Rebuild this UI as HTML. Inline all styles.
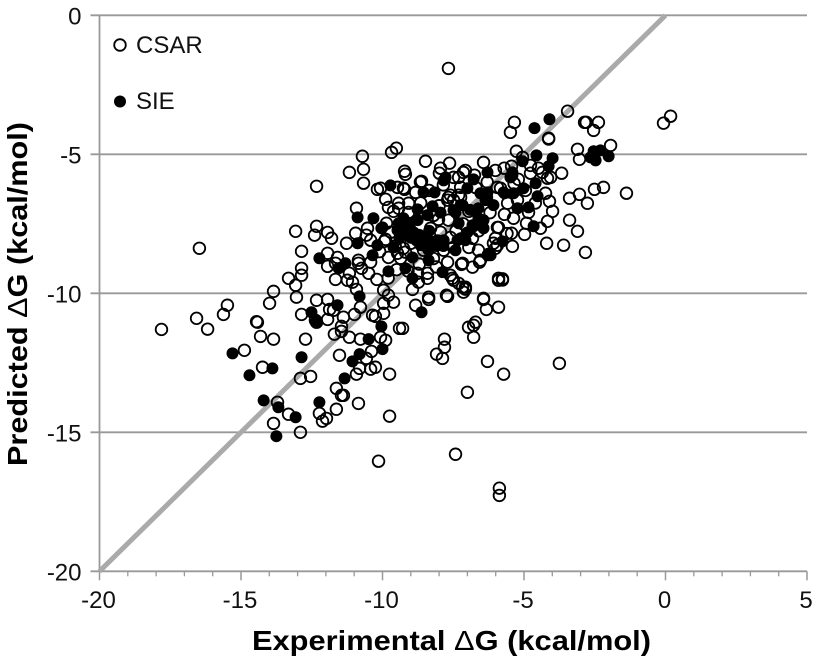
<!DOCTYPE html>
<html lang="en">
<head>
<meta charset="utf-8">
<title>Predicted vs Experimental Binding Free Energy</title>
<style>
html,body{margin:0;padding:0;background:#fff;width:815px;height:661px;overflow:hidden}
svg{display:block}
text{font-family:"Liberation Sans",sans-serif;fill:#111}
.tick{font-size:24px}
.title{font-size:28px;font-weight:bold;fill:#000}
.delta{font-weight:normal}
</style>
</head>
<body>
<svg id="chart" width="815" height="661" viewBox="0 0 815 661" xmlns="http://www.w3.org/2000/svg">
  <g id="grid"></g>
  <g id="axes"></g>
  <g id="identity"></g>
  <g id="csar"></g>
  <g id="sie"></g>
  <g>
    <circle cx="120" cy="45" r="5.8" fill="none" stroke="#000" stroke-width="1.8"/>
    <text x="136" y="53" style="font-size:24px">CSAR</text>
    <circle cx="120" cy="101.5" r="6" fill="#000"/>
    <text x="136" y="109" style="font-size:24px">SIE</text>
  </g>
  <text class="title" x="252" y="650" textLength="399" lengthAdjust="spacingAndGlyphs">Experimental <tspan class="delta">Δ</tspan>G (kcal/mol)</text>
  <text class="title" transform="translate(27,466) rotate(-90)" x="0" y="0" textLength="344" lengthAdjust="spacingAndGlyphs">Predicted <tspan class="delta">Δ</tspan>G (kcal/mol)</text>
</svg>
<script>
const xTicks = [-20, -15, -10, -5, 0, 5];
const xTickLabels = ["-20", "-15", "-10", "-5", "0", "5"];
const yTicks = [0, -5, -10, -15, -20];
const yTickLabels = ["0", "-5", "-10", "-15", "-20"];
const xMinorTicks = [-19,-18,-17,-16,-14,-13,-12,-11,-9,-8,-7,-6,-4,-3,-2,-1,1,2,3,4];
const identityLine = [-20, 0];

const csarPoints = [
[-7.67,-1.91],[-0.07,-3.88],[0.18,-3.63],[-3.46,-3.45],[-5.34,-3.85],[-5.48,-4.21],[-4.13,-4.42],[-4.13,-4.45],
[-2.86,-3.85],[-2.80,-3.85],[-2.37,-3.85],[-2.54,-4.14],[-3.11,-4.82],[-3.04,-5.18],[-1.94,-4.68],[-5.27,-4.89],
[-5.05,-5.11],[-6.01,-5.58],[-5.44,-5.43],[-3.67,-5.68],[-4.77,-5.68],[-4.17,-5.86],[-4.35,-5.65],[-5.83,-6.22],
[-3.39,-6.58],[-3.04,-6.44],[-2.76,-6.76],[-2.51,-6.26],[-2.19,-6.19],[-1.38,-6.40],[-4.24,-6.40],[-4.10,-6.69],
[-3.99,-7.05],[-4.17,-7.41],[-3.39,-7.37],[-3.11,-7.77],[-4.42,-7.66],[-4.98,-7.88],[-4.20,-8.20],[-3.60,-8.27],
[-2.83,-8.53],[-5.41,-8.31],[-5.44,-7.84],[-5.90,-7.63],[-4.91,-7.48],[-4.84,-7.09],[-5.69,-7.16],[-5.37,-7.30],
[-5.58,-6.76],[-5.23,-6.65],[-6.01,-8.38],[-4.06,-5.83],[-4.77,-5.40],[-4.49,-5.50],
[-3.75,-12.52],[-10.14,-16.04],[-7.42,-15.79],[-5.87,-17.01],[-5.87,-17.27],[-16.47,-8.38],[-17.81,-11.30],[-16.57,-10.90],
[-5.76,-9.48],[-5.76,-9.52],[-6.43,-10.22],[-6.33,-10.58],[-5.90,-10.50],[-7.70,-10.11],[-7.17,-9.78],[-7.07,-9.85],
[-7.53,-9.46],[-8.37,-10.22],[-8.83,-10.43],[-9.29,-11.26],[-6.96,-11.22],[-6.78,-11.15],[-6.71,-11.04],[-6.78,-11.58],
[-7.81,-11.65],[-7.81,-11.94],[-8.09,-12.19],[-7.88,-12.34],[-6.29,-12.45],[-5.72,-12.91],[-7.00,-13.56],
[-13.07,-7.77],[-12.33,-7.59],[-12.40,-7.91],[-11.94,-7.81],[-11.80,-8.02],[-11.27,-8.20],[-12.86,-8.49],[-11.94,-8.56],
[-12.86,-9.10],[-12.86,-9.35],[-13.32,-9.46],[-13.07,-9.71],[-13.85,-9.93],[-13.04,-10.14],[-13.99,-10.36],[-15.48,-10.43],
[-15.62,-10.76],[-12.33,-10.25],[-11.94,-10.22],[-12.86,-10.76],[-11.87,-10.58],[-11.73,-10.61],[-11.94,-10.94],[-12.37,-10.97],
[-12.33,-11.04],[-11.38,-10.86],[-11.45,-11.19],[-11.45,-11.37],[-11.70,-11.47],[-11.17,-11.58],[-10.99,-10.76],[-10.78,-10.50],
[-10.92,-9.86],[-14.45,-11.02],[-14.42,-11.04],[-16.18,-11.29],[-14.31,-11.55],[-13.85,-11.65],[-12.72,-11.65],[-14.88,-12.05],
[-14.24,-12.66],[-12.90,-13.06],[-12.54,-12.99],[-11.52,-12.23],[-10.78,-11.65],[-10.39,-12.09],[-10.57,-12.34],[-10.81,-12.70],
[-10.92,-12.91],[-10.42,-12.73],[-10.25,-12.66],[-9.75,-12.91],[-11.63,-13.42],[-11.45,-13.67],[-11.38,-13.67],[-10.85,-13.96],
[-11.63,-14.17],[-12.23,-14.32],[-11.98,-14.50],[-12.12,-14.60],[-13.71,-13.92],[-13.32,-14.35],[-13.85,-14.68],[-12.90,-15.00],
[-9.75,-14.42],[-9.96,-9.89],[-9.96,-10.36],[-9.79,-10.07],[-9.61,-10.32],[-10.35,-10.79],[-10.25,-10.83],[-9.96,-10.72],
[-9.40,-11.26],[-10.07,-11.58],[-9.89,-11.69],[-11.66,-8.92],[-11.94,-9.03],[-10.85,-8.92],[-10.74,-9.10],[-10.49,-9.28],
[-11.66,-9.50],[-11.24,-9.53],[-11.06,-9.60],[-11.17,-9.28],[-10.42,-8.88],[-9.79,-8.71],[-10.95,-7.84],[-10.53,-7.66],
[-10.42,-8.09],[-9.93,-8.13],[-9.47,-8.56],
[-10.71,-5.07],[-11.17,-5.65],[-10.67,-5.54],[-10.67,-6.04],[-12.33,-6.15],[-9.68,-4.93],[-9.51,-4.78],[-10.92,-6.94],
[-10.18,-6.26],[-10.07,-6.22],[-9.89,-6.62],[-9.79,-6.91],[-10.57,-7.91],[-9.89,-8.06],[-9.86,-7.48],[-11.59,-8.71],[-10.85,-8.81],
[-8.48,-5.25],[-9.22,-5.61],[-9.19,-5.72],[-8.62,-5.97],[-9.47,-6.19],[-9.22,-6.26],[-8.83,-6.37],[-9.43,-6.76],[-9.08,-6.76],
[-9.43,-6.94],[-9.61,-7.05],[-9.08,-7.09],[-7.63,-5.32],[-7.95,-5.50],[-7.99,-5.68],[-6.43,-5.29],[-7.07,-5.58],[-7.14,-5.65],
[-7.49,-5.83],[-7.31,-5.83],[-7.60,-6.47],[-7.49,-6.65],[-7.70,-6.65],[-7.31,-6.47],[-7.24,-6.19],[-5.94,-6.19],
[-9.36,-8.74],[-9.26,-8.38],[-9.19,-8.52],[-8.30,-7.66],[-8.02,-7.34],[-7.67,-7.37],[-7.60,-7.99],[-7.84,-8.45],[-7.70,-8.88],
[-7.21,-8.96],[-6.82,-9.06],[-6.57,-8.88],[-6.61,-8.45],[-6.82,-8.02],[-6.01,-8.02],[-5.94,-7.63],[-6.08,-8.20],
[-8.76,-9.28],[-8.41,-9.28],[-8.73,-9.60],[-8.41,-9.46],[-8.94,-9.86],[-7.60,-9.35],[-7.49,-9.53],[-7.31,-9.64],[-7.14,-9.96],
[-7.07,-9.78],[-8.37,-10.14],[-7.74,-10.07],[-6.43,-10.18],[-5.90,-9.46],[-5.90,-9.53],[-7.17,-8.92],[-6.54,-8.81],
[-8.90,-7.85],[-8.55,-8.45],[-9.00,-8.20],[-8.20,-8.75],[-8.00,-6.85],[-7.40,-7.75],[-6.95,-7.05],[-6.70,-6.20],[-6.20,-7.10],
[-5.60,-7.85],[-6.30,-6.00],[-6.75,-5.75],[-8.35,-6.30],[-7.85,-6.10],[-9.70,-7.80],[-9.55,-8.30],[-8.70,-8.95],[-8.10,-9.05],
[-7.95,-7.80],[-7.15,-7.50],[-6.60,-7.75],[-5.20,-5.90],[-5.70,-5.50],[-8.65,-6.75],[-9.10,-9.20],[-9.50,-9.15],[-9.80,-9.45],
[-8.20,-7.20],[-7.50,-8.35],[-6.95,-8.35],[-6.25,-8.60],[-5.35,-6.05],[-4.60,-6.75],[-4.95,-6.30],[-10.10,-8.50],[-10.20,-9.50],
[-8.66,-6.00],[-9.26,-6.22],[-7.67,-6.55],[-7.24,-6.55],[-5.94,-8.27]
];

const siePoints = [
[-10.88,-7.27],[-10.32,-7.30],[-10.04,-7.66],[-9.72,-6.12],[-9.61,-8.35],[-8.55,-6.37],[-8.16,-6.37],[-7.77,-5.83],[-7.84,-5.94],
[-6.78,-5.90],[-7.00,-6.22],[-6.29,-5.65],[-6.54,-6.40],[-6.29,-6.37],[-6.36,-6.65],[-6.08,-6.83],[-8.76,-6.98],[-8.23,-6.87],
[-7.17,-6.83],[-7.42,-7.09],[-6.61,-6.94],[-6.61,-7.30],[-6.43,-7.37],[-6.43,-7.66],[-6.78,-7.59],[-7.31,-7.48],[-7.00,-7.81],
[-9.26,-7.30],[-9.43,-7.48],[-9.08,-7.48],[-9.36,-7.73],[-9.01,-7.70],[-8.76,-7.37],[-8.41,-7.19],[-8.59,-8.02],[-8.37,-8.09],
[-8.06,-8.09],[-7.84,-8.09],[-8.59,-8.20],[-8.20,-8.27],[-7.35,-8.09],[-7.07,-8.09],[-7.42,-8.45],[-8.94,-8.71],[-8.37,-8.81],
[-9.19,-9.10],[-8.94,-9.46],[-7.88,-9.24],[-6.29,-8.63],[-8.62,-10.68],
[-12.23,-8.74],[-10.88,-8.20],[-11.31,-8.92],[-11.55,-9.10],[-10.35,-8.63],[-10.18,-8.27],[-10.00,-7.63],[-9.47,-7.73],[-9.79,-9.21],
[-11.59,-10.43],[-12.51,-10.68],[-12.33,-11.04],[-10.81,-10.11],[-10.04,-11.19],[-10.49,-11.65],[-10.00,-12.01],[-10.81,-12.19],
[-11.06,-12.45],[-11.34,-13.06],[-15.30,-12.16],[-14.70,-12.95],[-13.89,-12.70],[-12.86,-12.30],[-14.20,-13.85],[-13.68,-14.10],
[-13.07,-14.46],[-12.23,-13.92],[-13.75,-15.14],
[-4.63,-4.06],[-4.10,-3.74],[-5.05,-5.25],[-4.56,-5.04],[-3.99,-5.14],[-4.13,-5.43],[-5.41,-5.65],[-5.48,-5.83],[-2.54,-4.89],
[-2.30,-4.86],[-2.65,-5.11],[-2.47,-5.22],[-2.01,-5.07],[-4.59,-6.04],[-5.02,-6.22],[-5.72,-6.37],[-5.37,-6.40],[-4.52,-6.51],
[-4.84,-6.91],[-5.23,-6.94],[-4.66,-7.59],[-5.76,-8.13],[-6.18,-8.63],
[-8.90,-7.81],[-8.66,-8.27],[-8.37,-8.45],[-7.24,-8.02],[-7.49,-7.01],[-7.24,-6.83],[-6.82,-7.55],[-9.10,-7.90],[-9.40,-8.00],
[-8.70,-7.90],[-8.35,-7.75],[-8.10,-8.30],[-7.85,-8.30],[-9.00,-8.00],[-9.20,-7.85],[-8.80,-8.10],[-8.50,-8.30],[-6.30,-6.55],
[-5.69,-6.40],[-5.41,-5.76],[-6.90,-7.00],[-7.95,-7.10]
];

const SVG_NS = "http://www.w3.org/2000/svg";
const xScale = v => 665.5 + 28.3 * v;
const yScale = v => 15.3 - 27.8 * v;
const PLOT_LEFT = xScale(-20);
const PLOT_RIGHT = xScale(5);
const PLOT_TOP = yScale(0);
const PLOT_BOTTOM = yScale(-20);
const AXIS = "#999";

function make(tag, attrs, parent) {
  const el = document.createElementNS(SVG_NS, tag);
  for (const k in attrs) el.setAttribute(k, attrs[k]);
  parent.appendChild(el);
  return el;
}

const grid = document.getElementById("grid");
const axes = document.getElementById("axes");
const identity = document.getElementById("identity");
const csar = document.getElementById("csar");
const sie = document.getElementById("sie");

yTicks.forEach((t, i) => {
  const y = yScale(t);
  const line = make("line", {x1: 90.5, x2: PLOT_RIGHT, y1: y, y2: y, stroke: AXIS, "stroke-width": 1.8}, grid);
  
  
  const label = make("text", {class: "tick", x: 81.5, y: y + 9, "text-anchor": "end"}, axes);
  
  
  label.textContent = yTickLabels[i];
});

const yAxisLine = make("line", {x1: PLOT_LEFT, x2: PLOT_LEFT, y1: PLOT_TOP, y2: PLOT_BOTTOM, stroke: AXIS, "stroke-width": 1.8}, axes);



xTicks.forEach((t, i) => {
  const x = xScale(t);
  const tick = make("line", {x1: x, x2: x, y1: PLOT_BOTTOM, y2: PLOT_BOTTOM + 9, stroke: AXIS, "stroke-width": 1.5}, axes);
  
  
  const label = make("text", {class: "tick", x: x - 1, y: 608, "text-anchor": "middle"}, axes);
  
  
  label.textContent = xTickLabels[i];
});

xMinorTicks.forEach(t => {
  const x = xScale(t);
  const tick = make("line", {x1: x, x2: x, y1: PLOT_BOTTOM, y2: PLOT_BOTTOM + 5, stroke: AXIS, "stroke-width": 1.3}, axes);
  
  
});

const diag = make("line", {
  x1: xScale(identityLine[0]), y1: yScale(identityLine[0]),
  x2: xScale(identityLine[1]), y2: yScale(identityLine[1]),
  stroke: "#aaa", "stroke-width": 5
}, identity);



csarPoints.forEach(p => {
  const c = make("circle", {cx: xScale(p[0]), cy: yScale(p[1]), r: 5.8, fill: "none", stroke: "#000", "stroke-width": 1.8}, csar);
  
  
});

siePoints.forEach(p => {
  const c = make("circle", {cx: xScale(p[0]), cy: yScale(p[1]), r: 6, fill: "#000"}, sie);
  
  
});
</script>
</body>
</html>
